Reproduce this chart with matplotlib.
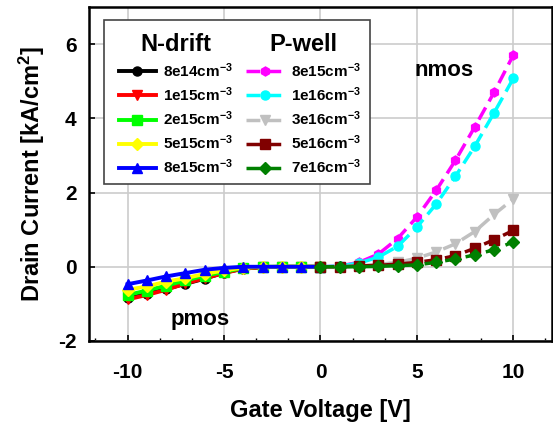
import matplotlib
matplotlib.use("Agg")
from matplotlib import pyplot as plt
from matplotlib.patches import Rectangle
from matplotlib.ticker import MultipleLocator
import numpy as np

plt.rcParams["font.family"] = ["Liberation Sans", "DejaVu Sans"]
plt.rcParams["font.weight"] = "bold"
plt.rcParams["mathtext.fontset"] = "custom"
plt.rcParams["mathtext.bf"] = "Liberation Sans:bold"
plt.rcParams["mathtext.rm"] = "Liberation Sans:bold"
plt.rcParams["mathtext.default"] = "bf"
plt.rcParams["axes.unicode_minus"] = False

# pmos side: N-drift doping
vg_p = [-10, -9, -8, -7, -6, -5, -4, -3, -2, -1, 0]
nd_8e14 = [-0.85, -0.73, -0.60, -0.46, -0.32, -0.16, -0.05, -0.01, 0, 0, 0]
nd_1e15 = [-0.88, -0.76, -0.62, -0.45, -0.31, -0.17, -0.05, -0.01, 0, 0, 0]
nd_2e15 = [-0.76, -0.64, -0.51, -0.37, -0.24, -0.14, -0.03, 0, 0, 0, 0]
nd_5e15 = [-0.62, -0.53, -0.40, -0.31, -0.19, -0.10, -0.02, 0, 0, 0, 0]
nd_8e15 = [-0.47, -0.37, -0.26, -0.17, -0.08, -0.03, 0, 0, 0, 0, 0]

# nmos side: P-well doping
vg_n = [0, 1, 2, 3, 4, 5, 6, 7, 8, 9, 10]
pw_8e15 = [0, 0.02, 0.12, 0.34, 0.76, 1.34, 2.06, 2.87, 3.77, 4.70, 5.71]
pw_1e16 = [0, 0.02, 0.10, 0.26, 0.55, 1.07, 1.69, 2.44, 3.25, 4.15, 5.08]
pw_3e16 = [0, 0, 0.02, 0.06, 0.12, 0.23, 0.40, 0.62, 0.95, 1.41, 1.83]
pw_5e16 = [0, 0, 0.02, 0.04, 0.07, 0.12, 0.19, 0.30, 0.50, 0.73, 0.98]
pw_7e16 = [0, 0, 0, 0.01, 0.03, 0.05, 0.12, 0.21, 0.32, 0.46, 0.67]

nd_labels = ["8e14", "1e15", "2e15", "5e15", "8e15"]
pw_labels = ["8e15", "1e16", "3e16", "5e16", "7e16"]

fig = plt.figure(figsize=(5.53, 4.23), dpi=100)
ax = fig.add_axes([0.161, 0.194, 0.837, 0.789])

nd_series = [nd_8e14, nd_1e15, nd_2e15, nd_5e15, nd_8e15]
nd_colors = ["black", "#ff0000", "#00ff00", "#ffff00", "#0000ff"]
nd_markers = ["o", "v", "s", "D", "^"]
nd_handles = []
for ys, c, m, lab in zip(nd_series, nd_colors, nd_markers, nd_labels):
    h, = ax.plot(vg_p, ys, color=c, marker=m, lw=2.8, ms=6.5, zorder=3,
                 label=lab + "cm$^{-3}$")
    nd_handles.append(h)

pw_series = [pw_8e15, pw_1e16, pw_3e16, pw_5e16, pw_7e16]
pw_colors = ["#ff00ff", "#00ffff", "#c0c0c0", "#800000", "#008000"]
pw_markers = ["h", "o", "v", "s", "D"]
pw_handles = []
for ys, c, m, lab in zip(pw_series, pw_colors, pw_markers, pw_labels):
    h, = ax.plot(vg_n, ys, color=c, marker=m, lw=2.5, ms=6.5, ls=(0, (4, 2)),
                 zorder=3, label=lab + "cm$^{-3}$")
    pw_handles.append(h)

ax.set_xlim(-12, 12)
ax.set_ylim(-2, 7)
ax.set_xticks([-10, -5, 0, 5, 10])
ax.set_yticks([-2, 0, 2, 4, 6])
ax.xaxis.set_minor_locator(MultipleLocator(5 / 3))
ax.grid(True, color="#cccccc", lw=1.2, zorder=0)
ax.set_axisbelow(True)
ax.tick_params(direction="in", labelsize=15, width=1.2, length=4)
ax.tick_params(axis="x", pad=16)
ax.tick_params(axis="y", pad=9)
ax.tick_params(which="minor", direction="in", length=2.5, width=1)
for s in ax.spines.values():
    s.set_linewidth(1.8)

ax.set_xlabel("Gate Voltage [V]", fontsize=17, fontweight="bold", labelpad=12)
ax.set_ylabel("Drain Current [kA/cm$^2$]", fontsize=17, fontweight="bold",
              labelpad=8)

ax.text(6.4, 5.15, "nmos", fontsize=16, fontweight="bold", ha="center")
ax.text(-6.25, -1.58, "pmos", fontsize=16, fontweight="bold", ha="center")

# legend frame with two titled columns
ax.add_patch(Rectangle((0.032, 0.47), 0.575, 0.491, transform=ax.transAxes,
                       facecolor="white", edgecolor="#444444", lw=1.2,
                       zorder=4))
kw = dict(frameon=False, loc="upper left", fontsize=11, handlelength=2.4,
          numpoints=1, labelspacing=0.36, handletextpad=0.5,
          title_fontproperties={"size": 17, "weight": "bold"})
leg1 = ax.legend(handles=nd_handles, title="N-drift",
                 bbox_to_anchor=(0.035, 0.965), **kw)
leg1.set_zorder(5)
ax.add_artist(leg1)
leg2 = ax.legend(handles=pw_handles, title="P-well",
                 bbox_to_anchor=(0.31, 0.965), **kw)
leg2.set_zorder(5)

fig.savefig("out.png", dpi=100)
